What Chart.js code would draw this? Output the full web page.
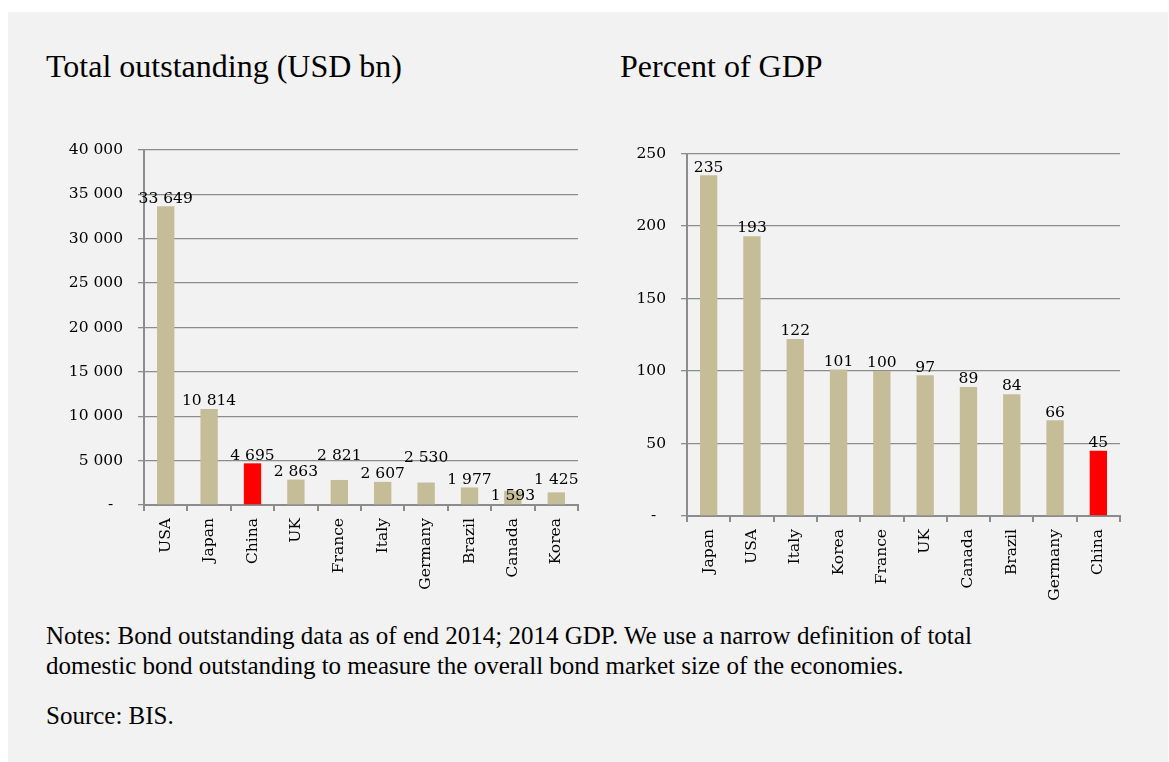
<!DOCTYPE html>
<html lang="en">
<head>
    <meta charset="UTF-8">
    <title>Bond market size</title>
    <script src="https://cdn.jsdelivr.net/npm/chart.js"></script>
    <style>
        body {
            margin: 0;
            background: #ffffff;
            width: 1169px;
            height: 762px;
            overflow: hidden;
        }
        .panel {
            position: absolute;
            left: 8px;
            top: 12px;
            width: 1160px;
            height: 750px;
            background: #f2f2f2;
        }
        .title {
            position: absolute;
            font-family: "Liberation Serif", serif;
            font-size: 32px;
            color: #000;
            white-space: nowrap;
        }
        .box {
            position: absolute;
            top: 140px;
            height: 480px;
        }
        .notes {
            position: absolute;
            left: 46px;
            font-family: "Liberation Serif", serif;
            font-size: 25px;
            line-height: 30px;
            color: #000;
            white-space: nowrap;
        }
    </style>
</head>
<body>
    <div class="panel"></div>
    <div class="title" style="left:46px; top:48px;">Total outstanding (USD bn)</div>
    <div class="title" style="left:620px; top:48px;">Percent of GDP</div>
    <div class="box" style="left:40px; width:540px;"><canvas id="leftChart"></canvas></div>
    <div class="box" style="left:580px; width:542px;"><canvas id="rightChart"></canvas></div>
    <div class="notes" style="top:621px;">Notes: Bond outstanding data as of end 2014; 2014 GDP. We use a narrow definition of total<br>domestic bond outstanding to measure the overall bond market size of the economies.</div>
    <div class="notes" style="top:701px;">Source: BIS.</div>

    <script>
        // total outstanding, USD bn
        const leftCountries = ["USA", "Japan", "China", "UK", "France", "Italy", "Germany", "Brazil", "Canada", "Korea"];
        const leftValues = [33649, 10814, 4695, 2863, 2821, 2607, 2530, 1977, 1593, 1425];
        const leftTicks = ["-", "5 000", "10 000", "15 000", "20 000", "25 000", "30 000", "35 000", "40 000"];

        // percent of GDP
        const rightCountries = ["Japan", "USA", "Italy", "Korea", "France", "UK", "Canada", "Brazil", "Germany", "China"];
        const rightValues = [235, 193, 122, 101, 100, 97, 89, 84, 66, 45];
        const rightTicks = ["-", "50", "100", "150", "200", "250"];

        const tan = "#c4bd97";
        const red = "#ff0000";
        const gray = "#8c8c8c";
        const serif = "'DejaVu Serif', serif";
        const fontSize = 15.5;

        Chart.defaults.font.family = serif;
        Chart.defaults.font.size = fontSize;
        Chart.defaults.color = "#000";

        function fmt(v) {
            return String(v).replace(/\B(?=(\d{3})+(?!\d))/g, " ");
        }

        // value labels above bars, nudged up or down when they bump into the previous one
        const barLabels = {
            id: "barLabels",
            afterDatasetsDraw(chart) {
                const ctx = chart.ctx;
                const meta = chart.getDatasetMeta(0);
                const data = chart.data.datasets[0].data;
                const h = 15;
                let prev = null;
                ctx.save();
                ctx.font = fontSize + "px " + serif;
                ctx.fillStyle = "#000";
                ctx.textAlign = "center";
                ctx.textBaseline = "bottom";
                meta.data.forEach((bar, i) => {
                    const text = fmt(data[i]);
                    const w = ctx.measureText(text).width + 4;
                    let bottom = bar.y - 3;
                    const box = { l: bar.x - w / 2, r: bar.x + w / 2 };
                    if (prev && box.l < prev.r && bottom > prev.top && bottom - h < prev.bottom) {
                        const up = prev.top - 1;
                        const down = prev.bottom + 1 + h;
                        bottom = (bottom - up) <= (down - bottom) * 1.2 ? up : down;
                    }
                    ctx.fillText(text, bar.x, bottom + 3);
                    prev = { l: box.l, r: box.r, top: bottom - h, bottom: bottom };
                });
                ctx.restore();
            }
        };

        function makeChart(id, labels, values, tickLabels, max, step, pad, yWidth, xHeight) {
            return new Chart(document.getElementById(id), {
                type: "bar",
                data: {
                    labels: labels,
                    datasets: [{
                        data: values,
                        backgroundColor: labels.map(c => c === "China" ? red : tan),
                        barPercentage: 0.4,
                        categoryPercentage: 1.0
                    }]
                },
                options: {
                    responsive: true,
                    maintainAspectRatio: false,
                    animation: false,
                    layout: { padding: { top: pad, right: 2, bottom: 0, left: 0 } },
                    plugins: {
                        legend: { display: false },
                        tooltip: { enabled: false }
                    },
                    scales: {
                        x: {
                            grid: {
                                drawOnChartArea: false,
                                drawTicks: true,
                                tickLength: 6,
                                color: gray,
                                lineWidth: 2,
                                offset: true
                            },
                            border: { color: gray, width: 2 },
                            ticks: {
                                minRotation: 90,
                                maxRotation: 90,
                                padding: 7,
                                autoSkip: false
                            },
                            afterFit(scale) {
                                scale.height = xHeight;
                                scale.paddingLeft = 0;
                                scale.paddingRight = 0;
                            }
                        },
                        y: {
                            min: 0,
                            max: max,
                            grid: {
                                color: gray,
                                lineWidth: 1.3,
                                tickLength: 6
                            },
                            border: { color: gray, width: 2 },
                            ticks: {
                                stepSize: step,
                                padding: 15,
                                callback: (v, i) => tickLabels[i] === "-" ? "-\u00a0\u00a0" : tickLabels[i]
                            },
                            afterFit(scale) {
                                scale.width = yWidth;
                                scale.paddingTop = 0;
                                scale.paddingBottom = 0;
                            }
                        }
                    }
                },
                plugins: [barLabels]
            });
        }

        makeChart("leftChart", leftCountries, leftValues, leftTicks, 40000, 5000, 10, 104, 115);
        makeChart("rightChart", rightCountries, rightValues, rightTicks, 250, 50, 13.5, 107, 104);
    </script>
</body>
</html>
